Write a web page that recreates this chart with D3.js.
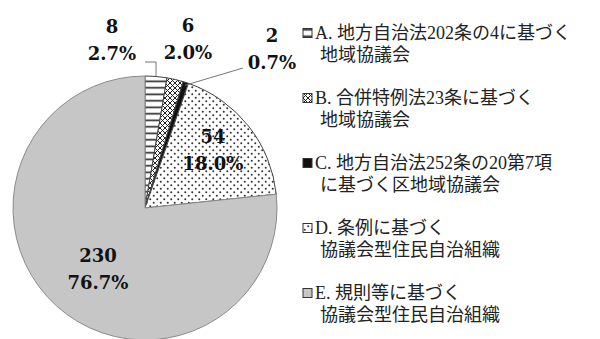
<!DOCTYPE html>
<html>
<head>
<meta charset="utf-8">
<script src="https://cdn.jsdelivr.net/npm/d3@7"></script>
<style>
  body { margin: 0; background: #fff; }
  .num { font-family: "DejaVu Serif", serif; font-weight: bold; font-size: 18px; fill: #111; }
  .leg { font-family: "Liberation Serif", "Noto Sans CJK JP", serif; font-size: 18px; fill: #222; }
</style>
</head>
<body>
<div id="chart"></div>
<script>
// data
var keys = ["A", "B", "C", "D", "E"];
var counts = [8, 6, 2, 54, 230];
var percents = ["2.7%", "2.0%", "0.7%", "18.0%", "76.7%"];
var legend_lines = [
  ["A. 地方自治法202条の4に基づく", "地域協議会"],
  ["B. 合併特例法23条に基づく", "地域協議会"],
  ["C. 地方自治法252条の20第7項", "に基づく区地域協議会"],
  ["D. 条例に基づく", "協議会型住民自治組織"],
  ["E. 規則等に基づく", "協議会型住民自治組織"]
];

var width = 600, height = 339;
var cx = 145, cy = 208, radius = 132;

// where the count / percent labels go, relative to pie centre
var label_pos = [[-33, -181], [43, -182], [127, -172], [68, -71], [-47, 48]];

var svg = d3.select("#chart")
  .append("svg")
  .attr("width", width)
  .attr("height", height);

var defs = svg.append("defs");

// horizontal stripes
var pA = defs.append("pattern").attr("id", "patA")
  .attr("patternUnits", "userSpaceOnUse").attr("width", 6).attr("height", 6.5);
pA.append("rect").attr("width", 6).attr("height", 6.5).attr("fill", "#fff");
pA.append("rect").attr("y", 2.5).attr("width", 6).attr("height", 1.6).attr("fill", "#222");

// cross hatch
var pB = defs.append("pattern").attr("id", "patB")
  .attr("patternUnits", "userSpaceOnUse").attr("width", 5).attr("height", 5);
pB.append("rect").attr("width", 5).attr("height", 5).attr("fill", "#fff");
pB.append("path").attr("d", "M0,0L5,5M5,0L0,5").attr("stroke", "#222").attr("stroke-width", 1);

// dots
var pD = defs.append("pattern").attr("id", "patD")
  .attr("patternUnits", "userSpaceOnUse").attr("width", 7).attr("height", 7);
pD.append("rect").attr("width", 7).attr("height", 7).attr("fill", "#fff");
pD.append("circle").attr("cx", 1.75).attr("cy", 1.75).attr("r", 1).attr("fill", "#333");
pD.append("circle").attr("cx", 5.25).attr("cy", 5.25).attr("r", 1).attr("fill", "#333");

var fills = ["url(#patA)", "url(#patB)", "#111", "url(#patD)", "#c6c6c6"];

var pie = d3.pie().sort(null).value(function(d) { return d; });
var arc = d3.arc().innerRadius(0).outerRadius(radius);
var arcs = pie(counts);

var g = svg.append("g")
  .attr("transform", "translate(" + cx + "," + cy + ")");

g.selectAll("path.slice")
  .data(arcs)
  .enter()
  .append("path")
  .attr("class", "slice")
  .attr("d", arc)
  .attr("fill", function(d, i) { return fills[i]; })
  .attr("stroke", function(d, i) { return i == 4 ? "#8a8a8a" : "#444"; })
  .attr("stroke-width", 1);

// leader lines for A and C
var a0 = (arcs[0].startAngle + arcs[0].endAngle) / 2;
g.append("path")
  .attr("d", d3.line()([
    [Math.sin(a0) * radius, -Math.cos(a0) * radius],
    [Math.sin(a0) * radius, -radius - 14],
    [0, -radius - 14]
  ]))
  .attr("fill", "none").attr("stroke", "#777").attr("stroke-width", 1);

var a2 = (arcs[2].startAngle + arcs[2].endAngle) / 2;
g.append("line")
  .attr("x1", Math.sin(a2) * (radius - 3)).attr("y1", -Math.cos(a2) * (radius - 3))
  .attr("x2", 98).attr("y2", -140)
  .attr("stroke", "#777").attr("stroke-width", 1);

// count and percent labels
var labels = g.selectAll("g.lab")
  .data(arcs)
  .enter()
  .append("g")
  .attr("class", "lab")
  .attr("transform", function(d, i) {
    return "translate(" + label_pos[i][0] + "," + label_pos[i][1] + ")";
  });

labels.append("text")
  .attr("class", "num")
  .attr("text-anchor", "middle")
  .attr("dy", "0.35em")
  .text(function(d, i) { return counts[i]; });

labels.append("text")
  .attr("class", "num")
  .attr("text-anchor", "middle")
  .attr("y", 27)
  .attr("dy", "0.35em")
  .text(function(d, i) { return percents[i]; });

// legend
var legend = svg.selectAll("g.legend")
  .data(keys)
  .enter()
  .append("g")
  .attr("class", "legend")
  .attr("transform", function(d, i) { return "translate(303," + (33 + i * 65) + ")"; });

legend.append("rect")
  .attr("x", 0).attr("y", -4.5)
  .attr("width", 9).attr("height", 9)
  .attr("fill", function(d, i) { return fills[i]; })
  .attr("stroke", "#333").attr("stroke-width", 1);

legend.append("text")
  .attr("class", "leg")
  .attr("x", 12)
  .attr("dy", "0.35em")
  .text(function(d, i) { return legend_lines[i][0]; });

legend.append("text")
  .attr("class", "leg")
  .attr("x", 17)
  .attr("y", 21.5)
  .attr("dy", "0.35em")
  .text(function(d, i) { return legend_lines[i][1]; });
</script>
</body>
</html>
